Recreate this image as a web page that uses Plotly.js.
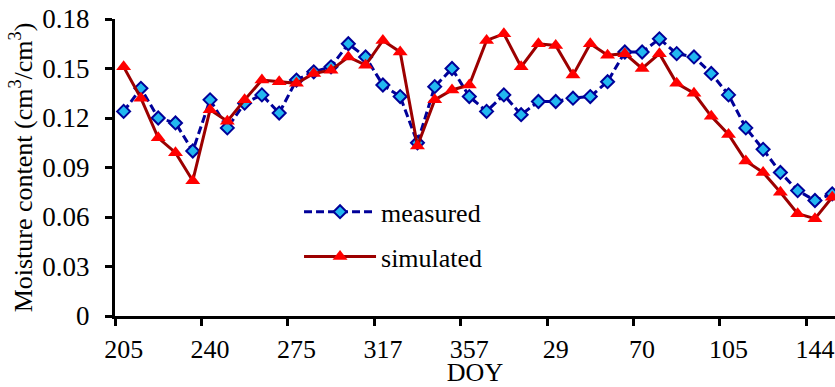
<!DOCTYPE html>
<html>
<head>
<meta charset="utf-8">
<script src="https://cdn.plot.ly/plotly-3.0.1.min.js"></script>
<style>
html,body{margin:0;padding:0;background:#fff;}
#chart{width:835px;height:387px;}
</style>
</head>
<body>
<div id="chart"></div>
<script>
// Tick labels (DOY), shown every 5th observation
const tickLabels = ["205", "240", "275", "317", "357", "29", "70", "105", "144"];
// Observation index (42 evenly spaced sampling dates)
const obsIndex = Array.from({length: 42}, (_, i) => i);
const measured = [
  0.124, 0.138, 0.120, 0.117, 0.100, 0.131, 0.114, 0.129, 0.134, 0.123,
  0.143, 0.148, 0.151, 0.165, 0.157, 0.140, 0.133, 0.105, 0.139, 0.150,
  0.133, 0.124, 0.134, 0.122, 0.130, 0.130, 0.132, 0.133, 0.142, 0.160,
  0.160, 0.168, 0.159, 0.157, 0.147, 0.134, 0.114, 0.101, 0.087, 0.076,
  0.070, 0.074
];
const simulated = [
  0.151, 0.132, 0.108, 0.099, 0.082, 0.125, 0.118, 0.131, 0.143, 0.142,
  0.141, 0.147, 0.149, 0.157, 0.152, 0.167, 0.160, 0.103, 0.131, 0.137,
  0.140, 0.167, 0.171, 0.151, 0.165, 0.164, 0.146, 0.165, 0.158, 0.159,
  0.150, 0.159, 0.141, 0.135, 0.121, 0.110, 0.094, 0.087, 0.075, 0.062,
  0.059, 0.072
];
const yTickVals = [0, 0.03, 0.06, 0.09, 0.12, 0.15, 0.18];
const yTickText = ["0", "0.03", "0.06", "0.09", "0.12", "0.15", "0.18"];
const labelPositions = tickLabels.map((_, k) => k * 5);

const FONT = "Liberation Serif";

const traces = [
  {
    x: obsIndex, y: measured, name: "measured", legendgroup: "a", type: "scatter", mode: "lines+markers",
    line: {color: "#000099", width: 3, dash: "8px,4px"},
    marker: {symbol: "diamond", size: 10, color: "#22B8F0", line: {color: "#000099", width: 2}}
  },
  {
    x: obsIndex, y: simulated, name: "simulated", legendgroup: "b", type: "scatter", mode: "lines+markers",
    line: {color: "#9C0000", width: 3},
    marker: {symbol: "triangle-up", size: 13, color: "#FF0000", line: {width: 0}}
  }
];

const layout = {
  width: 835, height: 387,
  margin: {l: 115, r: 0, t: 19, b: 71},
  paper_bgcolor: "#fff", plot_bgcolor: "#fff",
  font: {family: FONT, size: 26, color: "#000"},
  showlegend: true,
  legend: {
    x: 0.2556, y: 0.43, xanchor: "left", yanchor: "top",
    bgcolor: "rgba(0,0,0,0)", borderwidth: 0,
    traceorder: "grouped", tracegroupgap: 8,
    font: {family: FONT, size: 26, color: "#000"},
    itemwidth: 72
  },
  xaxis: {
    range: [-0.5, 41.16],
    tickmode: "array", tickvals: labelPositions, ticktext: tickLabels,
    ticks: "", showgrid: false, zeroline: false,
    ticklabelstandoff: 8,
    showline: true, linecolor: "#000", linewidth: 3,
    tickfont: {family: FONT, size: 26, color: "#000"},
    minor: {tickmode: "linear", tick0: -0.5, dtick: 5, ticks: "outside", ticklen: 7, tickwidth: 3, tickcolor: "#000", showgrid: false},
    title: {text: "DOY", font: {family: FONT, size: 26, color: "#000"}, standoff: 6},
    automargin: false
  },
  yaxis: {
    range: [0, 0.18],
    tickmode: "array", tickvals: yTickVals, ticktext: yTickText,
    ticks: "outside", ticklen: 7, tickwidth: 3, tickcolor: "#000",
    ticklabelstandoff: 10,
    showgrid: false, zeroline: false,
    showline: true, linecolor: "#000", linewidth: 3,
    tickfont: {family: FONT, size: 27, color: "#000"},
    title: {text: "Moisture content (cm<sup>3</sup>/cm<sup>3</sup>)", font: {family: FONT, size: 26, color: "#000"}, standoff: 3},
    automargin: false
  }
};

Plotly.newPlot("chart", traces, layout, {displayModeBar: false, staticPlot: true});
</script>
</body>
</html>
